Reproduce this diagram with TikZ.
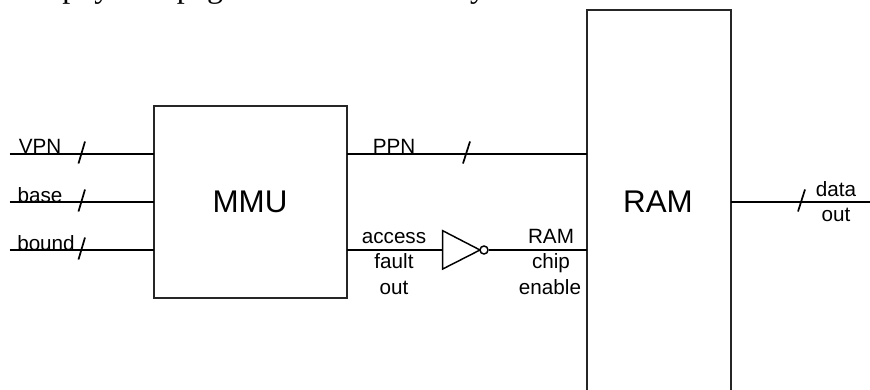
\documentclass[tikz,border=0pt]{standalone}
\usepackage{fontspec}
\setmainfont{Liberation Sans}
\newfontfamily\serifcut{Liberation Serif}
\tikzset{
  px/.style={x=0.75pt,y=-0.75pt},
  wire/.style={line width=1.3pt,black},
  bus/.style={line width=1.3pt,black},
  blockline/.style={line width=1.3pt,black!85},
  lbl/.style={inner sep=0pt,font=\fontsize{15.5}{18}\selectfont,align=center,anchor=base},
  big/.style={inner sep=0pt,font=\fontsize{23.5}{28}\selectfont,anchor=base},
}
\begin{document}
\begin{tikzpicture}[px]
\useasboundingbox (0,0) rectangle (870,389);
\clip (0,0) rectangle (870,389);
\node[anchor=base west,inner sep=0pt,font=\serifcut\fontsize{24}{28}\selectfont] (top) at (62,-2.5) {physical page is in main memory};
\coordinate (mmuTL) at (154,106);
\coordinate (mmuBR) at (346.7,297.7);
\draw[blockline] (mmuTL) rectangle (mmuBR);
\coordinate (ramTL) at (586.7,10);
\coordinate (ramBR) at (730.7,400);
\draw[blockline] (ramTL) rectangle (ramBR);
\node[big] (mmu) at (250,212) {MMU};
\node[big] (ram) at (658,212) {RAM};
% inputs
\coordinate (vpnS) at (9.5,154); \coordinate (vpnE) at (154,154);
\coordinate (baseS) at (9.5,202); \coordinate (baseE) at (154,202);
\coordinate (boundS) at (9.5,250); \coordinate (boundE) at (154,250);
\draw[wire] (vpnS) -- (vpnE);
\draw[wire] (baseS) -- (baseE);
\draw[wire] (boundS) -- (boundE);
\draw[bus] (78.5,163.5) -- (85,141.5);
\draw[bus] (78.5,211.5) -- (85,189.5);
\draw[bus] (78.5,259.5) -- (85,237.5);
\node[lbl] (vpn) at (40,153) {VPN};
\node[lbl] (base) at (40,202) {base};
\node[lbl] (bound) at (46,250) {bound};
% PPN
\coordinate (ppnS) at (346.7,154); \coordinate (ppnE) at (586.7,154);
\draw[wire] (ppnS) -- (ppnE);
\draw[bus] (463,163.5) -- (470,141.5);
\node[lbl] (ppn) at (394,153) {PPN};
% access fault
\coordinate (afS) at (346.7,250); \coordinate (afE) at (442.7,250);
\draw[wire] (afS) -- (afE);
\node[lbl] (access) at (394,243) {access};
\node[lbl] (fault) at (394,268) {fault};
\node[lbl] (afout) at (394,294) {out};
% inverter
\coordinate (invA) at (442.7,230.7); \coordinate (invB) at (442.7,269); \coordinate (invC) at (480,250);
\draw[line width=1.1pt,line join=miter] (invA) -- (invB) -- (invC) -- cycle;
\node[draw,circle,line width=1.1pt,minimum size=6pt,inner sep=0pt,fill=white] (bubble) at (484,250) {};
\coordinate (ceE) at (586.7,250);
\draw[wire] (bubble.east) -- (ceE);
\node[lbl] (r1) at (551,243) {RAM};
\node[lbl] (r2) at (551,268) {chip};
\node[lbl] (r3) at (550,294) {enable};
% data out
\coordinate (doS) at (730.7,202); \coordinate (doE) at (870,202);
\draw[wire] (doS) -- (doE);
\draw[bus] (798,211.5) -- (805,189.5);
\node[lbl] (d1) at (836,196) {data};
\node[lbl] (d2) at (836,221) {out};
\end{tikzpicture}
\end{document}
